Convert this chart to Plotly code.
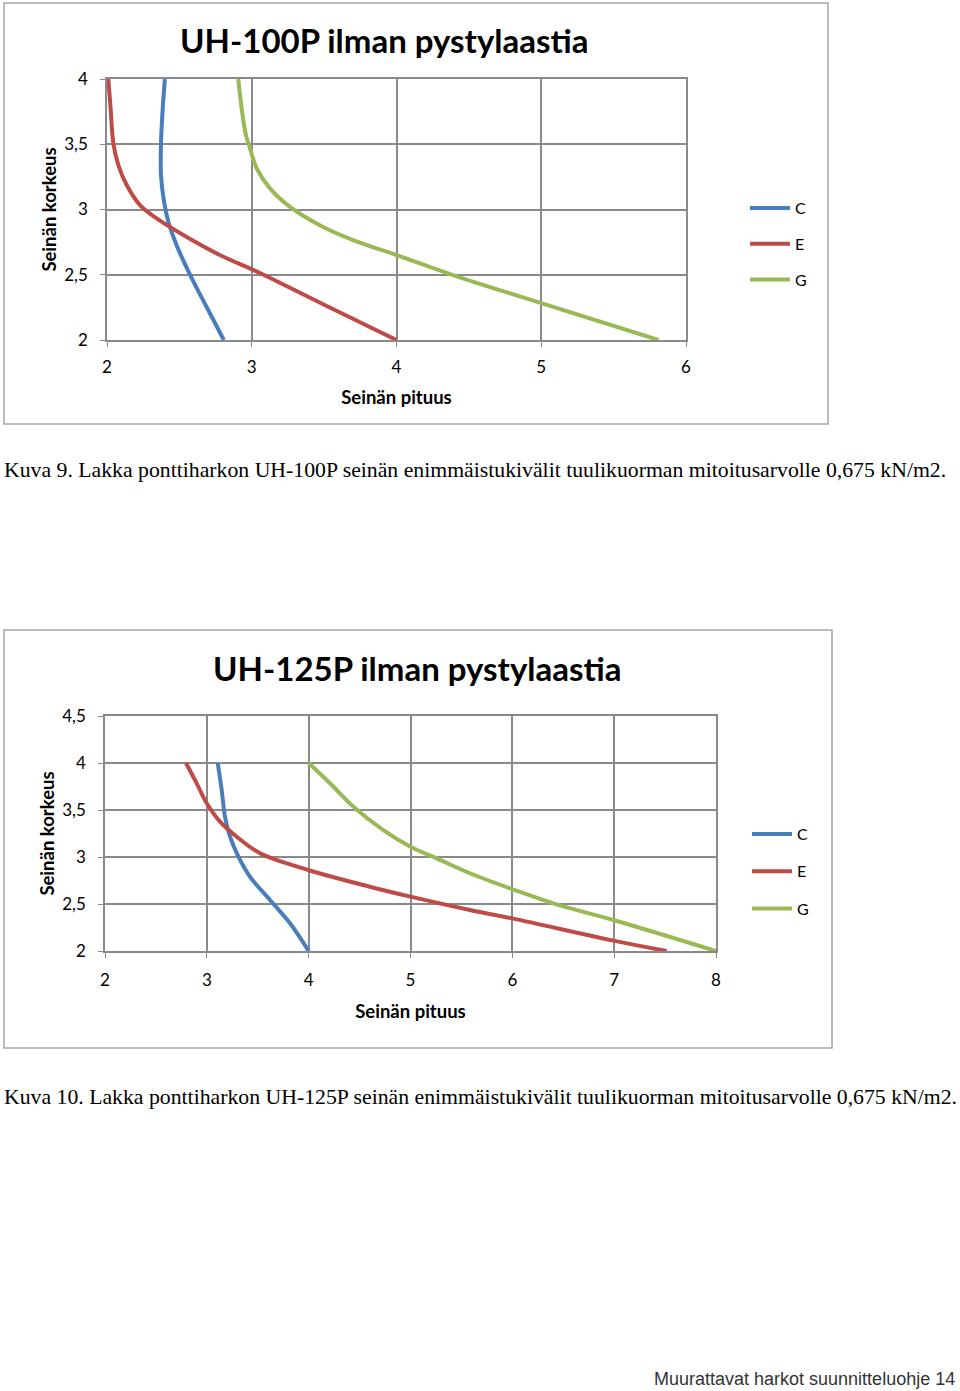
import plotly.graph_objects as go

W, H = 960, 1391

# ---- Chart 1: UH-100P ----
c1_C_x = [2.40, 2.385, 2.373, 2.373, 2.394, 2.424, 2.48, 2.569, 2.68, 2.807]
c1_C_y = [4.0, 3.775, 3.507, 3.264, 3.06, 2.906, 2.728, 2.511, 2.27, 2.0]
c1_E_x = [2.009, 2.025, 2.044, 2.078, 2.136, 2.228, 2.343, 2.527, 2.78, 3.045, 3.50, 4.0]
c1_E_y = [4.0, 3.775, 3.507, 3.341, 3.188, 3.034, 2.932, 2.805, 2.651, 2.519, 2.27, 2.0]
c1_G_x = [2.907, 2.93, 2.96, 2.988, 3.034, 3.126, 3.264, 3.47, 3.70, 4.0, 4.40, 5.0, 5.81]
c1_G_y = [4.0, 3.775, 3.57, 3.469, 3.316, 3.162, 3.02, 2.88, 2.766, 2.651, 2.494, 2.283, 2.0]

# ---- Chart 2: UH-125P ----
c2_C_x = [3.107, 3.146, 3.178, 3.228, 3.31, 3.424, 3.62, 3.817, 4.0]
c2_C_y = [4.0, 3.713, 3.43, 3.216, 3.003, 2.79, 2.543, 2.295, 2.0]
c2_E_x = [2.795, 2.90, 2.999, 3.129, 3.293, 3.522, 3.997, 4.60, 5.0, 5.584, 6.01, 6.99, 7.517]
c2_E_y = [4.0, 3.784, 3.571, 3.376, 3.216, 3.04, 2.862, 2.684, 2.578, 2.436, 2.344, 2.11, 2.0]
c2_G_x = [4.0, 4.21, 4.44, 4.733, 5.0, 5.257, 5.584, 6.03, 6.41, 7.0, 8.0]
c2_G_y = [4.0, 3.784, 3.535, 3.287, 3.11, 2.986, 2.827, 2.646, 2.504, 2.327, 2.0]

series_names = ["C", "E", "G"]
colors = ["#4a7ebb", "#be4b48", "#98b954"]

x1_ticks = [2, 3, 4, 5, 6]
y1_ticks = [2, 2.5, 3, 3.5, 4]
y1_ticklabels = ["2", "2,5", "3", "3,5", "4"]
x2_ticks = [2, 3, 4, 5, 6, 7, 8]
y2_ticks = [2, 2.5, 3, 3.5, 4, 4.5]
y2_ticklabels = ["2", "2,5", "3", "3,5", "4", "4,5"]

title1 = "UH-100P ilman pystylaastia"
title2 = "UH-125P ilman pystylaastia"
ytitle = "Seinän korkeus"
xtitle = "Seinän pituus"
caption1 = "Kuva 9. Lakka ponttiharkon UH-100P seinän enimmäistukivälit tuulikuorman mitoitusarvolle 0,675 kN/m2."
caption2 = "Kuva 10. Lakka ponttiharkon UH-125P seinän enimmäistukivälit tuulikuorman mitoitusarvolle 0,675 kN/m2."
footer = "Muurattavat harkot suunnitteluohje 14"

SANS = "Lato, 'Open Sans', sans-serif"
SERIF = "'Liberation Serif', serif"

def px(x):
    return x / W

def py(y):
    return 1 - y / H

fig = go.Figure()

data1 = [(c1_C_x, c1_C_y), (c1_E_x, c1_E_y), (c1_G_x, c1_G_y)]
data2 = [(c2_C_x, c2_C_y), (c2_E_x, c2_E_y), (c2_G_x, c2_G_y)]

for i, (xs, ys) in enumerate(data1):
    fig.add_trace(go.Scatter(x=xs, y=ys, mode="lines", name=series_names[i],
                             line=dict(color=colors[i], width=4, shape="spline", smoothing=1.0),
                             xaxis="x", yaxis="y", legend="legend",
                             legendgroup="a" + series_names[i]))
for i, (xs, ys) in enumerate(data2):
    fig.add_trace(go.Scatter(x=xs, y=ys, mode="lines", name=series_names[i],
                             line=dict(color=colors[i], width=4, shape="spline", smoothing=1.0),
                             xaxis="x2", yaxis="y2", legend="legend2",
                             legendgroup="b" + series_names[i]))

grid = "#8a8a8a"
axis_common = dict(showgrid=True, gridcolor=grid, gridwidth=1.5, showline=True,
                   linecolor=grid, linewidth=1.5, mirror=True, ticks="outside",
                   ticklen=5, tickcolor=grid, zeroline=False, automargin=False,
                   tickfont=dict(family=SANS, size=17, color="#000"))
title_font = dict(family=SANS, size=18.5, color="#000", weight="bold")

fig.update_layout(
    width=W, height=H,
    margin=dict(l=0, r=0, t=0, b=0),
    paper_bgcolor="white", plot_bgcolor="white",
    showlegend=True,
    xaxis=dict(domain=[px(107), px(686)], range=[2, 6], tickvals=x1_ticks,
               anchor="y", ticklabelstandoff=6,
               title=dict(text=xtitle, font=title_font, standoff=15),
               **axis_common),
    yaxis=dict(domain=[py(340), py(79)], range=[2, 4], tickvals=y1_ticks, ticktext=y1_ticklabels,
               anchor="x", ticklabelstandoff=9,
               title=dict(text=ytitle, font=title_font, standoff=3),
               **axis_common),
    xaxis2=dict(domain=[px(105), px(716)], range=[2, 8], tickvals=x2_ticks,
                anchor="y2", ticklabelstandoff=8,
                title=dict(text=xtitle, font=title_font, standoff=16),
                **axis_common),
    yaxis2=dict(domain=[py(951), py(716)], range=[2, 4.5], tickvals=y2_ticks, ticktext=y2_ticklabels,
                anchor="x2", ticklabelstandoff=9,
                title=dict(text=ytitle, font=title_font, standoff=3),
                **axis_common),
    legend=dict(x=px(745), y=py(191), xanchor="left", yanchor="top",
                font=dict(family=SANS, size=16, color="#000"), tracegroupgap=12,
                itemwidth=40, bgcolor="rgba(0,0,0,0)"),
    legend2=dict(x=px(747), y=py(817), xanchor="left", yanchor="top",
                 font=dict(family=SANS, size=16, color="#000"), tracegroupgap=13.5,
                 itemwidth=40, bgcolor="rgba(0,0,0,0)"),
)

# chart frames
fig.add_shape(type="rect", xref="paper", yref="paper",
              x0=px(4), x1=px(828), y0=py(424), y1=py(3),
              line=dict(color="#a6a6a6", width=1.5), layer="below")
fig.add_shape(type="rect", xref="paper", yref="paper",
              x0=px(4), x1=px(832), y0=py(1048), y1=py(630),
              line=dict(color="#a6a6a6", width=1.5), layer="below")

# titles
fig.add_annotation(text=title1, xref="paper", yref="paper", x=px(384), y=py(40),
                   showarrow=False, xanchor="center", yanchor="middle",
                   font=dict(family=SANS, size=33, color="#000", weight="bold"))
fig.add_annotation(text=title2, xref="paper", yref="paper", x=px(417), y=py(668),
                   showarrow=False, xanchor="center", yanchor="middle",
                   font=dict(family=SANS, size=33, color="#000", weight="bold"))

# captions
fig.add_annotation(text=caption1, xref="paper", yref="paper", x=px(2), y=py(470),
                   showarrow=False, xanchor="left", yanchor="middle",
                   font=dict(family=SERIF, size=21.75, color="#000"))
fig.add_annotation(text=caption2, xref="paper", yref="paper", x=px(2), y=py(1097),
                   showarrow=False, xanchor="left", yanchor="middle",
                   font=dict(family=SERIF, size=21.75, color="#000"))
fig.add_annotation(text=footer, xref="paper", yref="paper", x=px(957), y=py(1379),
                   showarrow=False, xanchor="right", yanchor="middle",
                   font=dict(family="'Liberation Sans', Arial, sans-serif", size=18, color="#333"))

fig.write_html("out.html", config={"displayModeBar": False},
               post_script="document.body.style.margin='0';")
